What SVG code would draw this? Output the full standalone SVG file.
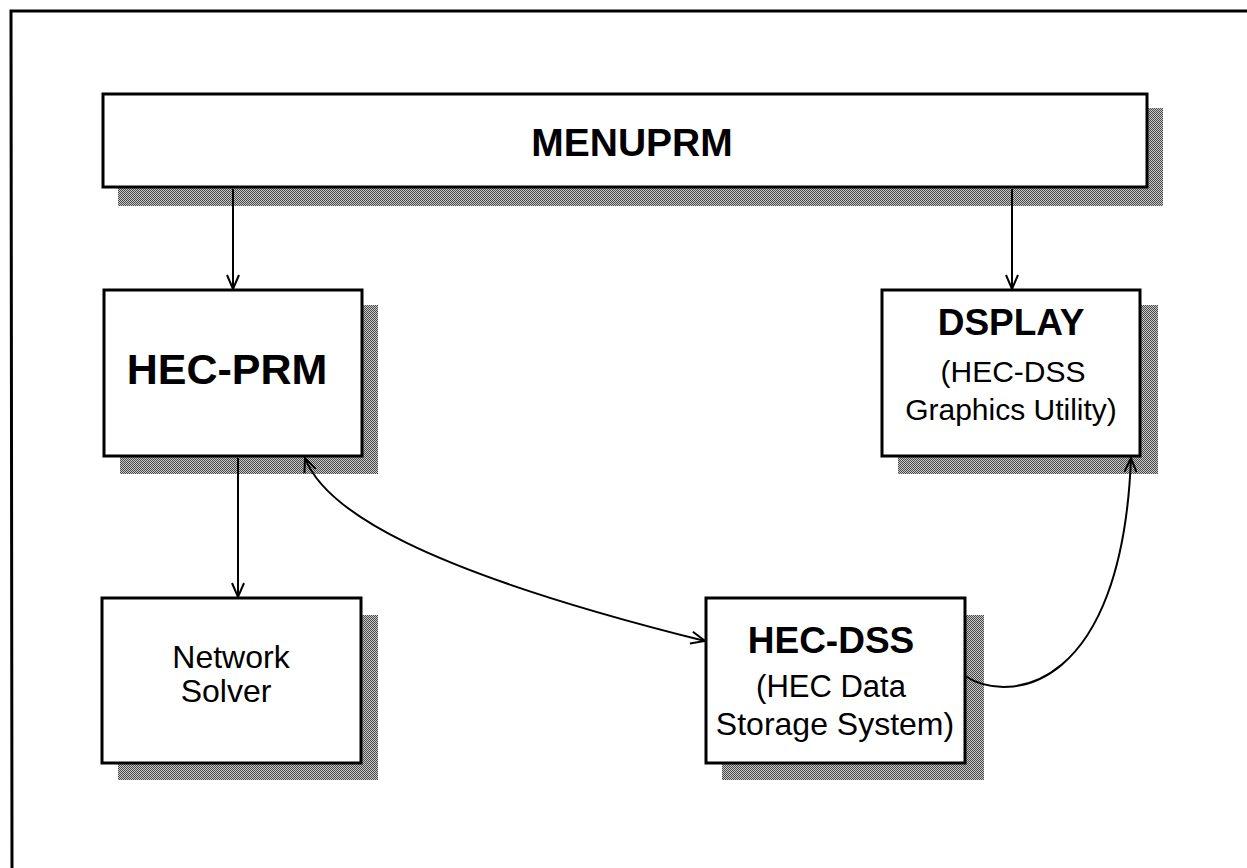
<svg xmlns="http://www.w3.org/2000/svg" width="1247" height="868" viewBox="0 0 1247 868">
<style>
.box{fill:#fff;stroke:#000;stroke-width:3}
.shadow{fill:url(#dither)}
.conn{fill:none;stroke:#000;stroke-width:2}
.b{font-family:"Liberation Sans",Arial,sans-serif;font-weight:bold;text-anchor:middle;fill:#000}
.r{font-family:"Liberation Sans",Arial,sans-serif;text-anchor:middle;fill:#000}
</style>
<defs>
<pattern id="dither" width="2" height="2" patternUnits="userSpaceOnUse">
<rect width="2" height="2" fill="#c8c8c8"/>
<rect x="0" y="0" width="1" height="1" fill="#4a4a4a"/>
<rect x="1" y="1" width="1" height="1" fill="#4a4a4a"/>
</pattern>
<marker id="arr" viewBox="0 0 16 14" refX="15" refY="7" markerWidth="16" markerHeight="14" markerUnits="userSpaceOnUse" orient="auto-start-reverse">
<path d="M1,1 L15,7 L1,13" fill="none" stroke="#000" stroke-width="2"/>
</marker>
</defs>
<rect width="1247" height="868" fill="#fff"/>
<path d="M12,868 L11,11 L1247,11" fill="none" stroke="#000" stroke-width="3"/>

<g id="menuprm">
<rect class="shadow" x="118" y="108" width="1045" height="98"/>
<rect class="box" x="103" y="94" width="1044" height="93"/>
<text class="b" x="632" y="156" font-size="39">MENUPRM</text>
</g>
<g id="hec-prm">
<rect class="shadow" x="120" y="305" width="258" height="169"/>
<rect class="box" x="104" y="290" width="258" height="166"/>
<text class="b" x="227" y="384" font-size="43">HEC-PRM</text>
</g>
<g id="dsplay">
<rect class="shadow" x="898" y="305" width="260" height="169"/>
<rect class="box" x="882" y="290" width="258" height="166"/>
<text class="b" x="1011" y="335" font-size="37">DSPLAY</text>
<text class="r" x="1013" y="382" font-size="30">(HEC-DSS</text>
<text class="r" x="1011" y="420" font-size="30">Graphics Utility)</text>
</g>
<g id="network-solver">
<rect class="shadow" x="118" y="615" width="260" height="165"/>
<rect class="box" x="102" y="598" width="259" height="165"/>
<text class="r" x="231" y="668" font-size="32">Network</text>
<text class="r" x="226" y="702" font-size="32">Solver</text>
</g>
<g id="hec-dss">
<rect class="shadow" x="722" y="615" width="262" height="165"/>
<rect class="box" x="706" y="598" width="259" height="165"/>
<text class="b" x="831" y="653" font-size="37">HEC-DSS</text>
<text class="r" x="831" y="697" font-size="31">(HEC Data</text>
<text class="r" x="835" y="735" font-size="32">Storage System)</text>
</g>

<g id="connectors">
<line class="conn" x1="233" y1="189" x2="233" y2="289" marker-end="url(#arr)"/>
<line class="conn" x1="1012" y1="189" x2="1012" y2="289" marker-end="url(#arr)"/>
<line class="conn" x1="238" y1="458" x2="238" y2="597" marker-end="url(#arr)"/>
<path class="conn" d="M305,458 C325,510 420,570 705,641" marker-start="url(#arr)" marker-end="url(#arr)"/>
<path class="conn" d="M965,676 C1010,705 1122,690 1131,458" marker-end="url(#arr)"/>
</g>
</svg>
